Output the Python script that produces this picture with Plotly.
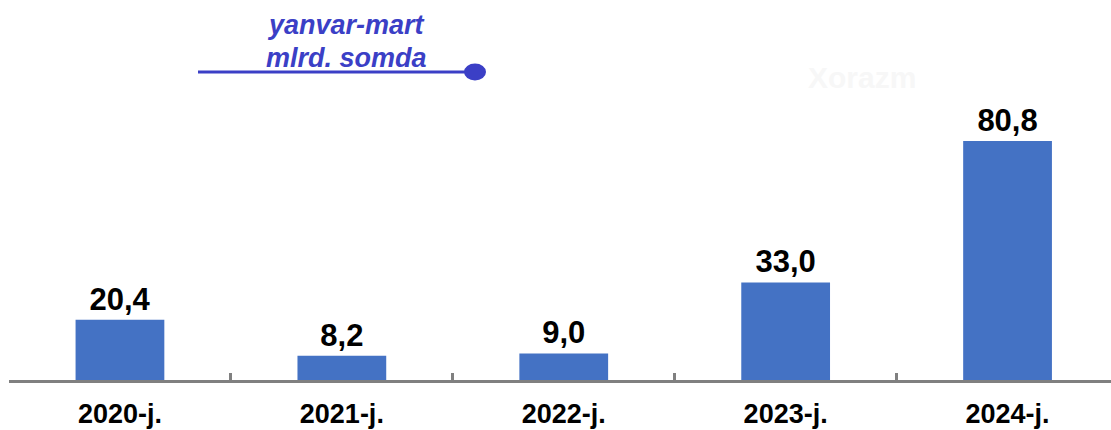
import plotly.graph_objects as go

categories = ["2020-j.", "2021-j.", "2022-j.", "2023-j.", "2024-j."]
values = [20.4, 8.2, 9.0, 33.0, 80.8]
value_labels = [f"{v:.1f}".replace(".", ",") for v in values]
title_lines = ["yanvar-mart", "mlrd. somda"]
watermark = "Xorazm"

W, H = 1111, 430
ML, MR, MT, MB = 9, 0, 100, 50
PW, PH = W - ML - MR, H - MT - MB


def px(x):
    return (x - ML) / PW


def py(y):
    return (H - MB - y) / PH


FONT = "Arial, 'Liberation Sans', sans-serif"
BLUE_T = "#3b3fc6"

fig = go.Figure()
fig.add_trace(go.Bar(
    x=categories,
    y=values,
    width=0.4,
    marker=dict(color="#4472c4", line=dict(width=0)),
    text=value_labels,
    textposition="outside",
    textfont=dict(family=FONT, size=31, color="#000000", weight="bold"),
    cliponaxis=False,
    hoverinfo="skip",
))

ymax = PH / (239 / 80.8)
fig.update_layout(
    width=W, height=H,
    margin=dict(l=ML, r=MR, t=MT, b=MB, autoexpand=False),
    paper_bgcolor="white", plot_bgcolor="white",
    showlegend=False,
    xaxis=dict(
        type="category",
        automargin=False,
        range=[-0.5, -0.5 + PW / 221.9],
        showline=True, linecolor="#808080", linewidth=3,
        ticks="inside", tickson="boundaries", ticklen=7, tickwidth=3, tickcolor="#808080",
        tickfont=dict(family=FONT, size=27, color="#000000", weight="bold"),
        ticklabelstandoff=8,
        showgrid=False, zeroline=False,
    ),
    yaxis=dict(range=[0, ymax], visible=False, showgrid=False, zeroline=False, automargin=False),
)

annotations = [
    dict(text=f"<b><i>{title_lines[0]}</i></b>", x=px(346), y=py(25), xref="paper", yref="paper",
         xanchor="center", yanchor="middle", showarrow=False,
         font=dict(family=FONT, size=27, color=BLUE_T)),
    dict(text=f"<b><i>{title_lines[1]}</i></b>", x=px(346), y=py(58), xref="paper", yref="paper",
         xanchor="center", yanchor="middle", showarrow=False,
         font=dict(family=FONT, size=27, color=BLUE_T)),
    dict(text=f"<b>{watermark}</b>", x=px(862), y=py(77), xref="paper", yref="paper",
         xanchor="center", yanchor="middle", showarrow=False,
         font=dict(family=FONT, size=30, color="#f7f7f7")),
]
fig.update_layout(annotations=annotations)

fig.add_shape(type="line", xref="paper", yref="paper",
              x0=px(198), x1=px(474), y0=py(72), y1=py(72),
              line=dict(color=BLUE_T, width=3))
fig.add_shape(type="circle", xref="paper", yref="paper",
              x0=px(464), x1=px(486), y0=py(80.5), y1=py(63.5),
              fillcolor=BLUE_T, line=dict(color=BLUE_T, width=0))

fig.write_html("out.html", config={"displayModeBar": False},
               post_script="document.body.style.margin='0';")
